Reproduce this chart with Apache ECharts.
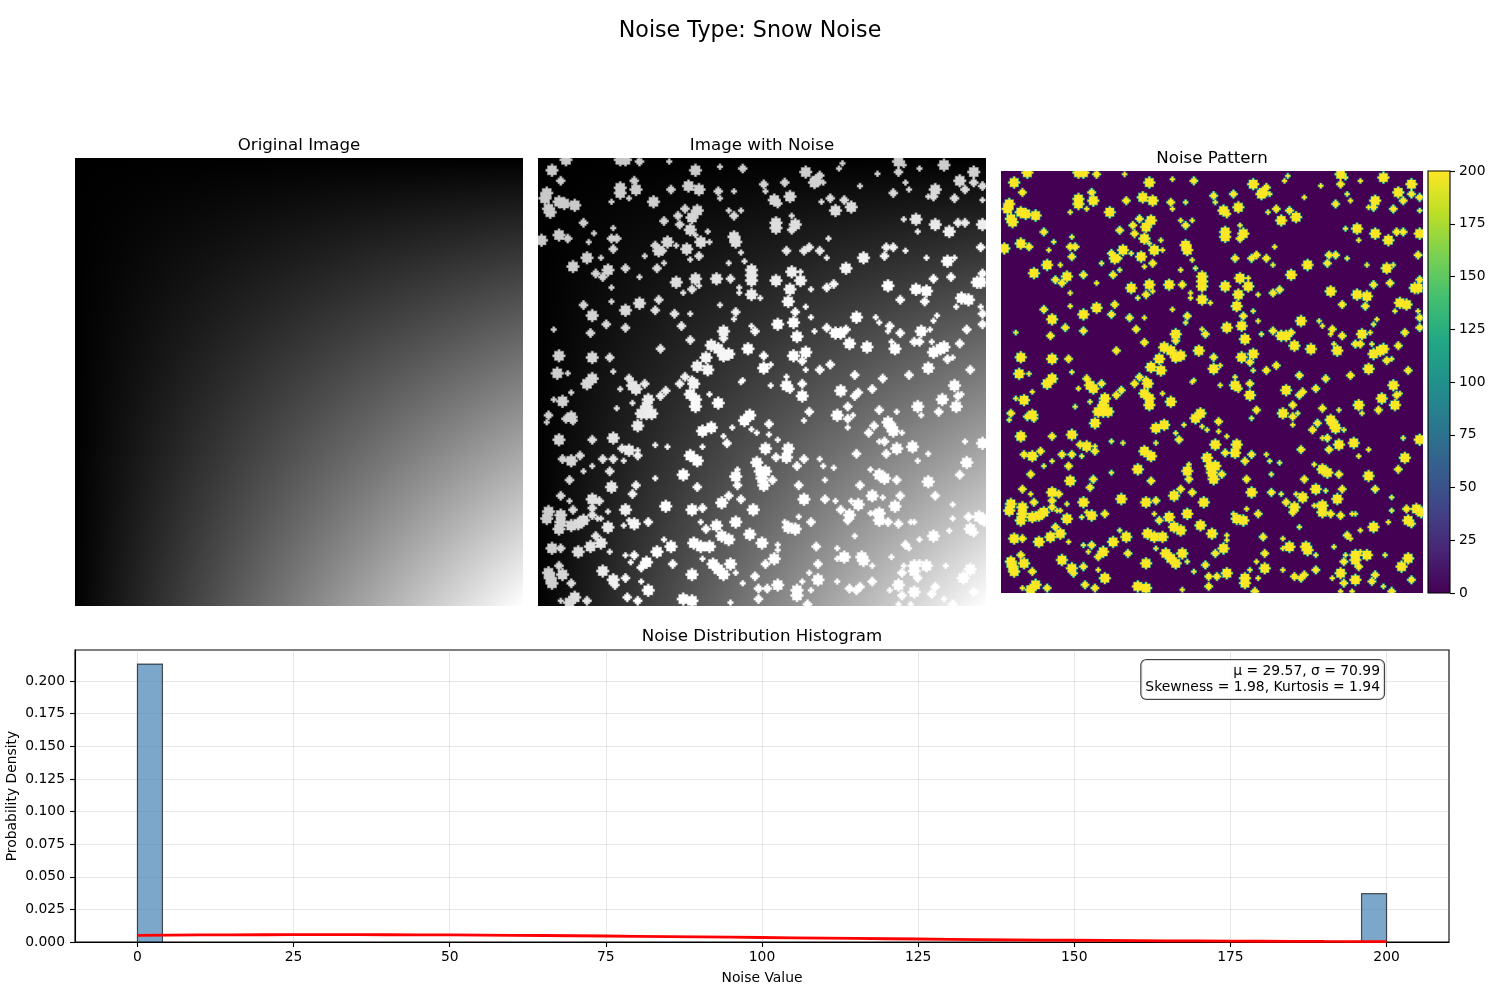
<!DOCTYPE html>
<html><head><meta charset="utf-8"><style>html,body{margin:0;background:#fff}#c{width:1500px;height:1000px}</style>
<script src="https://cdn.jsdelivr.net/npm/echarts@6/dist/echarts.min.js"></script></head>
<body><div id="c"></div><script>
// Snowflakes: [column, row, radius] in a 256 x 256 image
const flakesTopLeft=[[16,1,3],[47,1,3],[50,1,3],[58,2,2],[75,2,1],[8,7,3],[13,13,2],[90,7,3],[104,5,1],[117,6,2],[47,17,3],[47,20,3],[55,13,2],[56,18,3],[42,25,1],[52,23,1],[76,18,2],[86,16,3],[92,18,3],[103,19,2],[104,23,1],[112,19,1],[5,20,3],[4,23,3],[12,25,3],[15,26,3],[21,27,3],[6,29,3],[7,31,3],[66,25,3],[84,29,2],[91,30,3],[88,34,3],[80,33,2],[109,30,1],[116,30,1],[112,33,2],[26,37,2],[72,36,2],[81,38,2],[87,41,3],[90,44,1],[43,40,1],[32,43,1],[97,42,1],[12,44,3],[17,46,2],[2,47,3],[42,46,2],[45,46,2],[29,48,1],[43,52,2],[112,45,3],[113,48,3],[74,48,3],[67,50,2],[79,50,1],[69,53,3],[71,53,2],[85,52,3],[93,48,3],[98,48,1],[116,54,1],[28,57,3],[36,57,1],[61,56,1],[87,58,1],[92,56,2],[118,59,1],[20,62,3],[72,60,1],[109,60,1],[50,63,2],[68,63,2],[40,64,3],[33,66,2],[37,68,2],[58,68,1],[122,64,3],[122,67,3],[122,70,3],[79,71,3],[90,69,3],[102,69,3],[110,69,2],[92,73,1],[88,75,2],[42,74,1],[83,77,1],[115,74,1],[115,77,1],[122,78,3],[127,80,1],[42,82,1],[58,83,3],[69,81,2],[26,84,2],[104,84,1],[50,87,3],[67,87,2],[78,89,2],[87,89,1],[113,88,2],[31,90,3],[112,92,1],[39,95,2],[82,96,2],[50,97,2],[9,98,1],[30,100,2],[106,99,3],[106,103,2],[122,96,1],[124,99,2],[87,104,2],[99,107,3],[103,109,3],[70,109,2],[120,109,3],[109,112,3],[106,113,3],[12,113,3],[31,114,3],[41,114,2],[96,114,3],[91,119,3],[97,121,3],[11,123,3],[17,123,1],[43,122,1],[31,126,3],[52,126,2],[84,125,2],[88,127,2],[117,127,1]];
const flakesTopRight=[[129,15,2],[130,19,1],[153,8,3],[141,14,2],[159,13,3],[161,10,2],[158,14,3],[163,14,1],[172,6,1],[174,3,1],[184,16,1],[194,9,1],[206,2,3],[206,8,2],[209,4,1],[218,6,1],[232,4,3],[210,14,1],[212,18,1],[203,20,2],[249,8,3],[249,14,2],[241,13,3],[244,18,2],[254,16,2],[254,24,1],[227,18,3],[226,22,2],[223,22,1],[238,23,2],[135,24,3],[137,26,2],[144,22,3],[162,25,1],[167,23,2],[175,24,2],[179,28,3],[170,30,3],[145,33,1],[136,37,3],[136,40,3],[147,38,3],[145,41,2],[209,35,1],[216,35,3],[227,38,3],[217,42,1],[240,37,2],[244,37,2],[254,38,3],[235,42,3],[166,46,1],[199,51,2],[203,51,2],[142,53,2],[152,53,2],[155,51,2],[161,53,2],[210,53,1],[253,51,2],[165,57,1],[186,57,3],[198,56,2],[222,57,1],[234,59,3],[238,57,1],[176,63,3],[145,65,3],[150,65,1],[136,70,3],[150,70,3],[226,69,2],[236,68,2],[254,66,2],[253,71,3],[251,71,3],[169,72,2],[165,74,2],[200,73,3],[144,75,3],[156,75,1],[216,75,3],[222,76,3],[242,80,3],[246,81,3],[207,81,2],[143,82,3],[221,82,2],[153,85,1],[239,85,1],[253,85,1],[147,88,2],[254,89,2],[193,91,1],[228,90,1],[156,91,1],[182,91,3],[226,93,1],[195,94,1],[146,94,3],[137,95,3],[254,95,2],[201,96,2],[200,99,1],[165,97,2],[176,98,2],[245,98,2],[224,98,1],[219,99,3],[158,99,1],[207,100,2],[170,100,3],[173,100,3],[148,102,3],[178,106,3],[202,105,1],[225,105,1],[215,105,2],[218,105,2],[241,106,2],[188,108,3],[232,108,3],[230,109,3],[226,111,3],[204,109,3],[153,111,3],[146,113,3],[129,113,2],[234,115,2],[237,114,1],[151,116,2],[167,118,2],[223,120,3],[129,120,3],[133,118,1],[153,121,1],[161,121,2],[247,121,2],[181,124,2],[212,124,2],[142,125,1],[197,126,2]];
const flakesBottomLeft=[[28,129,3],[47,132,1],[54,130,3],[56,132,3],[61,129,2],[81,129,2],[89,129,3],[116,128,1],[9,138,1],[19,134,1],[14,139,3],[54,140,1],[73,133,2],[70,136,2],[45,143,1],[87,135,3],[90,138,3],[90,142,3],[98,135,1],[103,140,3],[63,138,3],[62,142,3],[59,146,3],[62,146,3],[65,146,3],[6,147,2],[5,151,1],[19,148,3],[16,149,2],[20,150,2],[121,147,3],[118,150,3],[57,153,3],[111,154,1],[122,155,1],[125,157,1],[99,154,3],[94,156,3],[106,159,1],[12,161,3],[31,161,2],[43,160,3],[108,163,2],[67,164,1],[74,165,1],[94,165,1],[48,166,2],[52,167,3],[57,167,1],[57,170,2],[87,170,3],[91,173,3],[14,172,2],[19,173,3],[24,170,2],[37,172,2],[43,172,2],[49,173,1],[31,176,1],[125,174,3],[127,179,3],[128,183,3],[129,187,3],[114,178,1],[26,179,1],[41,179,2],[83,181,3],[113,182,3],[67,183,1],[18,184,2],[56,187,2],[114,187,2],[91,188,2],[42,188,3],[54,192,2],[13,193,2],[109,193,2],[31,195,3],[35,196,2],[18,196,1],[116,195,2],[105,197,3],[73,199,3],[88,201,3],[94,200,2],[123,201,3],[31,200,2],[20,201,2],[50,201,3],[40,202,1],[6,202,3],[5,206,3],[13,204,3],[13,208,3],[12,212,3],[31,204,2],[34,206,1],[36,206,1],[26,207,3],[23,209,3],[19,210,3],[55,209,3],[52,207,1],[63,208,2],[113,208,3],[49,210,1],[40,211,3],[93,208,1],[102,210,3],[96,212,2],[121,215,3],[105,216,3],[109,218,3],[33,216,2],[72,218,1],[36,220,3],[30,222,3],[89,220,3],[93,222,3],[98,222,3],[128,220,3],[76,222,3],[8,223,3],[13,223,2],[23,225,3],[41,225,1],[68,225,3],[50,227,1],[55,227,2],[94,229,1],[62,231,3],[59,234,2],[53,231,1],[77,232,2],[12,233,2],[110,232,3],[100,232,3],[103,235,3],[106,238,3],[37,236,3],[113,237,1],[6,237,3],[7,240,3],[8,243,3],[14,238,3],[88,238,3],[124,239,2],[43,241,3],[44,244,2],[50,240,2],[59,242,1],[19,243,2],[117,243,1],[63,247,3],[126,246,2],[21,251,3],[18,254,3],[51,251,2],[83,252,3],[88,253,3],[126,252,2],[13,253,1],[28,253,2],[57,253,2],[110,254,1]];
const flakesBottomRight=[[133,130,1],[142,130,3],[144,132,2],[151,129,2],[151,136,3],[173,133,3],[183,134,2],[181,136,2],[191,132,2],[238,130,3],[231,138,3],[240,136,2],[242,135,1],[239,142,3],[217,142,3],[177,142,2],[155,145,2],[195,144,2],[205,145,1],[229,145,2],[219,147,1],[171,147,3],[177,149,2],[180,147,1],[152,150,1],[132,152,2],[200,151,3],[203,156,3],[202,154,3],[192,153,2],[189,157,2],[208,157,1],[177,154,1],[132,158,1],[137,161,1],[195,162,1],[198,162,2],[244,162,1],[254,163,3],[130,166,3],[143,166,3],[142,171,3],[205,166,3],[214,165,3],[182,169,2],[199,169,2],[223,169,1],[136,171,2],[152,172,2],[161,172,1],[163,176,1],[217,173,1],[245,174,3],[148,176,2],[169,177,1],[190,178,1],[130,179,3],[241,181,2],[195,181,3],[198,183,3],[164,184,1],[134,184,2],[205,184,2],[223,185,3],[149,187,2],[184,187,2],[191,193,3],[227,193,2],[207,193,2],[197,194,1],[152,195,3],[164,195,2],[170,196,1],[179,196,1],[183,198,3],[204,199,3],[237,198,1],[173,201,2],[195,203,3],[195,207,3],[190,203,1],[192,203,1],[178,204,3],[177,207,2],[149,205,1],[246,205,2],[237,206,1],[252,205,3],[255,207,3],[200,208,2],[206,209,2],[213,208,1],[215,208,1],[156,208,2],[141,208,1],[143,211,3],[147,212,3],[247,212,3],[249,214,2],[235,213,1],[181,216,1],[226,216,3],[218,218,1],[137,221,1],[137,224,1],[159,222,2],[171,223,1],[210,221,2],[212,223,1],[175,228,3],[171,229,1],[185,228,3],[186,230,3],[202,228,1],[135,229,3],[130,232,2],[160,232,2],[191,233,1],[209,233,1],[222,233,3],[215,233,3],[215,236,3],[217,240,2],[218,231,1],[233,233,1],[247,235,3],[243,240,3],[155,237,1],[208,237,2],[160,241,3],[151,242,1],[171,242,1],[191,242,2],[137,244,3],[131,246,2],[206,244,3],[184,245,2],[182,247,2],[178,246,2],[148,247,3],[148,250,3],[156,247,1],[201,247,1],[215,248,3],[227,245,2],[225,249,2],[208,250,2],[249,248,2],[232,252,1],[154,255,2],[206,255,1],[213,255,1],[237,255,2]];
// Histogram
const binStart=[0,196];
const binEnd=[4,200];
const binDensity=[0.2130,0.0370];
const curveX=[0,10,20,30,40,50,60,70,80,90,100,110,120,130,140,150,160,170,180,190,200];
const curveY=[.00515,.00541,.00557,.00562,.00556,.00539,.00513,.00478,.00437,.00391,.00344,.00296,.00251,.00207,.00168,.00133,.00104,.00079,.00059,.00044,.00032];
const xTicks=[0,25,50,75,100,125,150,175,200];
const yTicks=[0,.025,.05,.075,.1,.125,.15,.175,.2];
const viridis=['#440154','#482475','#414487','#355f8d','#2a788e','#21918c','#22a884','#44bf70','#7ad151','#bddf26','#fde725'];
const statsText='μ = 29.57, σ = 70.99\nSkewness = 1.98, Kurtosis = 1.94';
const imageExtent=[0,256];

const FONT='"DejaVu Sans"';
const flakes=[...flakesTopLeft,...flakesTopRight,...flakesBottomLeft,...flakesBottomRight];
const rowSpans={1:[0,1,0],2:[0,1,2,1,0],3:[0,2,2,3,2,2,0]};
const LG=echarts.graphic.LinearGradient;

function outline(api){
  const c=api.value(0),r=api.value(1),s=rowSpans[api.value(2)],n=s.length,h=(n-1)/2,pts=[];
  for(let i=0;i<n;i++){const y=r+i-h;pts.push(api.coord([c+s[i]+.5,y-.5]));pts.push(api.coord([c+s[i]+.5,y+.5]));}
  for(let i=n-1;i>=0;i--){const y=r+i-h;pts.push(api.coord([c-s[i]-.5,y+.5]));pts.push(api.coord([c-s[i]-.5,y-.5]));}
  return pts;
}
function snowGray(api){
  const g=Math.min(255,Math.round(200+api.value(0)*api.value(1)/255));
  return `rgb(${g},${g},${g})`;
}
function flakeLayer(idx,z,style){
  return {type:'custom',xAxisIndex:idx,yAxisIndex:idx,z,clip:true,silent:true,data:flakes,encode:{x:0,y:1},
    renderItem:(p,api)=>({type:'polygon',shape:{points:outline(api)},style:style(api)})};
}
function backdrop(idx){
  return {type:'custom',xAxisIndex:idx,yAxisIndex:idx,z:1,clip:true,silent:true,data:[[imageExtent[0],imageExtent[1]]],encode:{x:0,y:1},
    renderItem:(p,api)=>{
      const a=api.coord([imageExtent[0],imageExtent[0]]),b=api.coord([imageExtent[1],imageExtent[1]]);
      const shape={x:a[0],y:a[1],width:b[0]-a[0],height:b[1]-a[1]};
      return {type:'group',children:[
        {type:'rect',shape,style:{fill:new LG(0,0,1,0,[{offset:0,color:'#000'},{offset:1,color:'#fff'}])}},
        {type:'rect',shape,style:{fill:new LG(0,0,0,1,[{offset:0,color:'rgba(0,0,0,1)'},{offset:1,color:'rgba(0,0,0,0)'}])}}
      ]};
    }};
}
function imgAxes(i){
  return {x:{gridIndex:i,type:'value',min:imageExtent[0],max:imageExtent[1],show:false},
          y:{gridIndex:i,type:'value',min:imageExtent[0],max:imageExtent[1],show:false,inverse:true}};
}
const A=[imgAxes(0),imgAxes(1),imgAxes(2)];
const ttl=(text,x,y,size)=>({text,left:x,top:y,padding:0,textAlign:'center',textVerticalAlign:'middle',
  textStyle:{fontFamily:FONT,fontSize:size,fontWeight:'normal',color:'#000'}});

const option={
  animation:false,backgroundColor:'#fff',
  title:[ttl('Noise Type: Snow Noise',750,31,22.2),ttl('Original Image',299,145.5,16.67),ttl('Image with Noise',762,145.5,16.67),ttl('Noise Pattern',1212,158.5,16.67),ttl('Noise Distribution Histogram',762,636.5,16.67)],
  grid:[
    {left:75,top:158,width:448,height:448,outerBoundsMode:'none'},
    {left:538,top:158,width:448,height:448,outerBoundsMode:'none'},
    {left:1001,top:171,width:422,height:422,show:true,backgroundColor:viridis[0],borderWidth:0,outerBoundsMode:'none'},
    {left:1428,top:171,width:22,height:422,outerBoundsMode:'none'},
    {left:75,top:650,width:1374,height:292,show:true,backgroundColor:'#fff',borderColor:'#000',borderWidth:1.1,outerBoundsMode:'none'}
  ],
  xAxis:[A[0].x,A[1].x,A[2].x,
    {gridIndex:3,type:'value',min:0,max:1,show:false},
    {gridIndex:4,type:'value',min:-10,max:210,name:'Noise Value',nameLocation:'middle',nameGap:29,
      nameTextStyle:{fontFamily:FONT,fontSize:13.89,color:'#000'},
      axisLine:{onZero:false,lineStyle:{color:'#000',width:1.1}},
      axisTick:{length:5,lineStyle:{color:'#000',width:1.1},customValues:xTicks},
      axisLabel:{fontFamily:FONT,fontSize:13.89,color:'#000',margin:8,customValues:xTicks},
      splitLine:{show:true,lineStyle:{color:'#b0b0b0',width:1,opacity:.3}}}
  ],
  yAxis:[A[0].y,A[1].y,A[2].y,
    {gridIndex:3,type:'value',min:0,max:200,interval:25,position:'right',
      axisLine:{show:false,onZero:false},splitLine:{show:false},
      axisTick:{show:true,length:5,lineStyle:{color:'#000',width:1.1}},
      axisLabel:{fontFamily:FONT,fontSize:13.89,color:'#000',margin:9}},
    {gridIndex:4,type:'value',min:0,max:.2238,name:'Probability Density',nameLocation:'middle',nameGap:56,nameMoveOverlap:false,
      nameTextStyle:{fontFamily:FONT,fontSize:13.89,color:'#000'},
      axisLine:{show:true,onZero:false,lineStyle:{color:'#000',width:1.1}},
      axisTick:{show:true,length:5,lineStyle:{color:'#000',width:1.1},customValues:yTicks},
      axisLabel:{fontFamily:FONT,fontSize:13.89,color:'#000',margin:10,customValues:yTicks,formatter:v=>v.toFixed(3)},
      splitLine:{show:true,lineStyle:{color:'#b0b0b0',width:1,opacity:.3}}}
  ],
  series:[
    backdrop(0),
    backdrop(1),
    flakeLayer(1,2,api=>({fill:'none',stroke:snowGray(api),lineWidth:1.2,opacity:.55})),
    flakeLayer(1,3,api=>({fill:snowGray(api)})),
    flakeLayer(2,2,()=>({fill:'none',stroke:viridis[5],lineWidth:1.3})),
    flakeLayer(2,3,()=>({fill:viridis[10]})),
    {type:'custom',xAxisIndex:3,yAxisIndex:3,silent:true,data:[[0,0]],encode:{x:0,y:1},
      renderItem:(p,api)=>{
        const a=api.coord([0,200]),b=api.coord([1,0]);
        return {type:'rect',shape:{x:a[0],y:a[1],width:b[0]-a[0],height:b[1]-a[1]},
          style:{stroke:'#000',lineWidth:1.1,fill:new LG(0,1,0,0,viridis.map((color,i)=>({offset:i/(viridis.length-1),color})))}};
      }},
    {type:'custom',xAxisIndex:4,yAxisIndex:4,z:2,silent:true,data:binStart.map((s,i)=>[s,binEnd[i],binDensity[i]]),encode:{x:[0,1],y:2},
      renderItem:(p,api)=>{
        const a=api.coord([api.value(0),api.value(2)]),b=api.coord([api.value(1),0]);
        return {type:'rect',shape:{x:a[0],y:a[1],width:b[0]-a[0],height:b[1]-a[1]},
          style:{fill:'rgba(70,130,180,.7)',stroke:'rgba(0,0,0,.65)',lineWidth:1.2}};
      }},
    {type:'line',xAxisIndex:4,yAxisIndex:4,z:3,silent:true,showSymbol:false,smooth:true,data:curveX.map((x,i)=>[x,curveY[i]]),
      lineStyle:{color:'#ff0000',width:2.8}}
  ],
  graphic:[{type:'text',silent:true,z:100,x:1384,y:660,style:{text:statsText,font:'13.89px '+FONT,fill:'#000',align:'right',verticalAlign:'top',lineHeight:16.5,
    backgroundColor:'rgba(255,255,255,.8)',borderColor:'#444',borderWidth:1.1,borderRadius:5,padding:[3,4,3,4]}}]
};
echarts.init(document.getElementById('c'),null,{renderer:'canvas'}).setOption(option);
</script></body></html>
